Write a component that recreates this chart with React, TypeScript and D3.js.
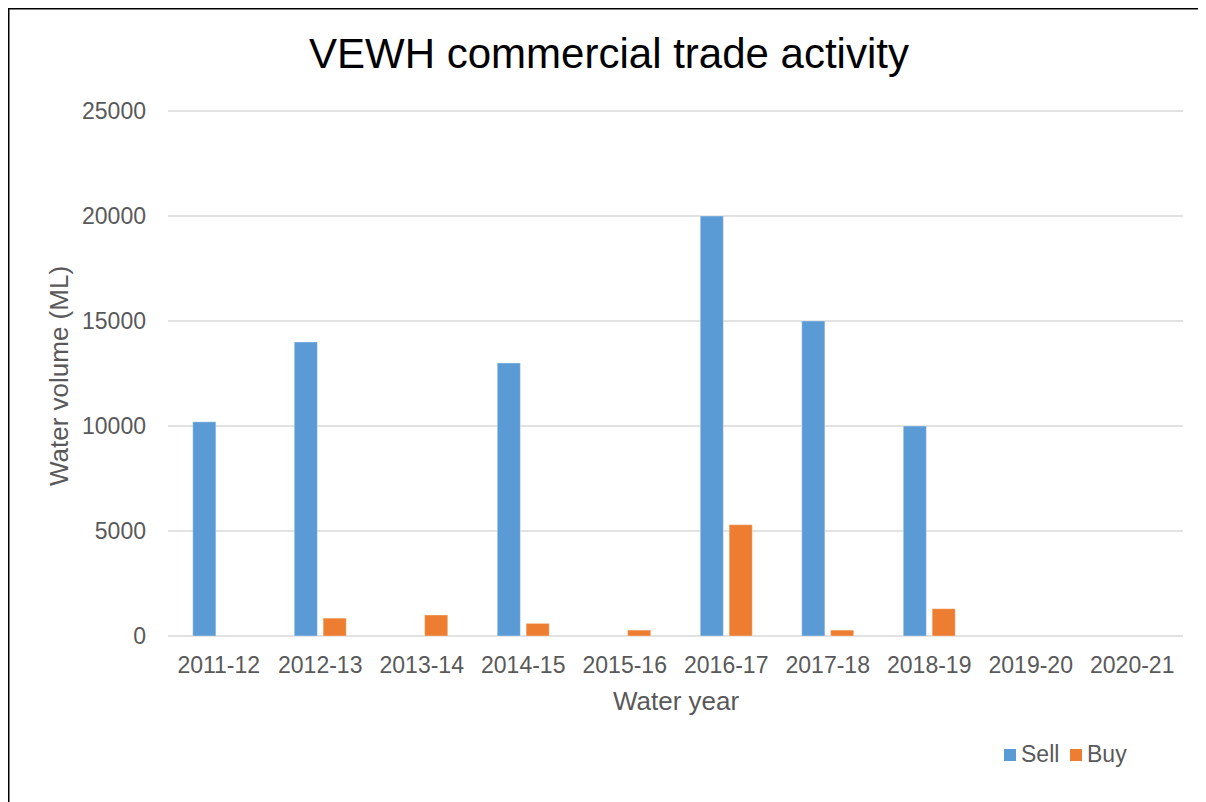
import React from 'react';
import * as d3 from 'd3';

const years = ['2011-12', '2012-13', '2013-14', '2014-15', '2015-16', '2016-17', '2017-18', '2018-19', '2019-20', '2020-21'];
const sell = [10200, 14000, 0, 13000, 0, 20000, 15000, 10000, 0, 0];
const buy = [0, 850, 1000, 600, 280, 5300, 280, 1300, 0, 0];
const yTicks = [0, 5000, 10000, 15000, 20000, 25000];

const series = [
  { name: 'Sell', color: '#5B9BD5', values: sell },
  { name: 'Buy', color: '#ED7D31', values: buy },
];

const FONT = '"Liberation Sans", Arial, sans-serif';
const TEXT = '#595959';

export default function App() {
  const svgRef = React.useRef<SVGSVGElement | null>(null);

  React.useEffect(() => {
    if (!svgRef.current) return;
    const svg = d3.select(svgRef.current);
    svg.selectAll('*').remove();

    // page coordinates (body margin is 8px)
    const root = svg.append('g').attr('transform', 'translate(-8,-8)');

    // frame (top + left only, as in the source)
    root.append('line').attr('x1', 8).attr('x2', 1206).attr('y1', 8.5).attr('y2', 8.5)
      .attr('stroke', '#000').attr('stroke-width', 2);
    root.append('line').attr('x1', 8.5).attr('x2', 8.5).attr('y1', 8).attr('y2', 802)
      .attr('stroke', '#000').attr('stroke-width', 2);

    const x0 = d3.scaleBand<string>().domain(years).range([168, 1183]).padding(0);
    const bw = x0.bandwidth();
    const x1 = d3.scaleBand<string>()
      .domain(series.map(s => s.name))
      .range([bw / 2 - 26, bw / 2 + 26])
      .paddingInner(0.2);
    const y = d3.scaleLinear().domain([0, 25000]).range([636, 111]);

    // grid
    root.append('g')
      .selectAll('line')
      .data(yTicks)
      .join('line')
      .attr('x1', 168)
      .attr('x2', 1183)
      .attr('y1', d => y(d))
      .attr('y2', d => y(d))
      .attr('stroke', '#D9D9D9')
      .attr('stroke-width', 1.5);

    // y tick labels
    root.append('g')
      .selectAll('text')
      .data(yTicks)
      .join('text')
      .attr('x', 146)
      .attr('y', d => y(d))
      .attr('dy', '0.36em')
      .attr('text-anchor', 'end')
      .attr('font-family', FONT)
      .attr('font-size', 23)
      .attr('fill', TEXT)
      .text(d => String(d));

    // x tick labels
    root.append('g')
      .selectAll('text')
      .data(years)
      .join('text')
      .attr('x', d => (x0(d) ?? 0) + bw / 2)
      .attr('y', 673)
      .attr('text-anchor', 'middle')
      .attr('font-family', FONT)
      .attr('font-size', 23)
      .attr('fill', TEXT)
      .text(d => d);

    // bars
    series.forEach(s => {
      root.append('g')
        .selectAll('rect')
        .data(s.values.map((v, i) => ({ year: years[i], v })).filter(d => d.v > 0))
        .join('rect')
        .attr('x', d => (x0(d.year) ?? 0) + (x1(s.name) ?? 0))
        .attr('width', x1.bandwidth())
        .attr('y', d => y(d.v))
        .attr('height', d => y(0) - y(d.v))
        .attr('fill', s.color)
        .attr('stroke', '#fff')
        .attr('stroke-opacity', 0.35)
        .attr('stroke-width', 1);
    });

    // title
    root.append('text')
      .attr('x', 609)
      .attr('y', 68)
      .attr('text-anchor', 'middle')
      .attr('font-family', FONT)
      .attr('font-size', 42)
      .attr('fill', '#000')
      .text('VEWH commercial trade activity');

    // axis titles
    root.append('text')
      .attr('x', 676)
      .attr('y', 710)
      .attr('text-anchor', 'middle')
      .attr('font-family', FONT)
      .attr('font-size', 26)
      .attr('fill', TEXT)
      .text('Water year');

    root.append('text')
      .attr('transform', 'translate(68,376) rotate(-90)')
      .attr('text-anchor', 'middle')
      .attr('font-family', FONT)
      .attr('font-size', 26)
      .attr('fill', TEXT)
      .text('Water volume (ML)');

    // legend
    const legend = root.append('g');
    const pos = [1004, 1070];
    series.forEach((s, i) => {
      const lg = legend.append('g').attr('transform', `translate(${pos[i]},749)`);
      lg.append('rect').attr('width', 12).attr('height', 12).attr('fill', s.color);
      lg.append('text')
        .attr('x', 17)
        .attr('y', 13)
        .attr('font-family', FONT)
        .attr('font-size', 23)
        .attr('fill', TEXT)
        .text(s.name);
    });
  }, []);

  return (
    <div style={{ width: 1198, height: 794, overflow: 'hidden' }}>
      <svg ref={svgRef} width={1198} height={794} style={{ display: 'block', overflow: 'hidden' }} />
    </div>
  );
}
